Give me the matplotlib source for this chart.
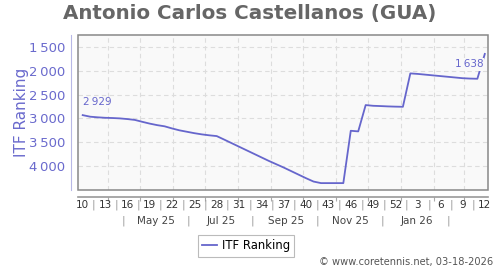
import numpy as np
import pandas as pd
import matplotlib
matplotlib.use("Agg")
import matplotlib.pyplot as plt
import matplotlib.dates as mdates
from matplotlib.patches import Rectangle
from matplotlib.ticker import FuncFormatter
from matplotlib.transforms import blended_transform_factory

# weekly ITF ranking, 2025-W10 .. 2026-W12
week_dates = pd.date_range("2025-03-08", periods=55, freq="7D")
ranking = [2929, 2962, 2975, 2985, 2990, 2998, 3012, 3030, 3070, 3108,
           3140, 3165, 3210, 3250, 3280, 3310, 3335, 3355, 3371, 3445,
           3520, 3595, 3670, 3745, 3820, 3895, 3965, 4035, 4110, 4185,
           4260, 4330, 4363, 4363, 4363, 4363, 3259, 3272, 2717, 2732,
           2738, 2745, 2750, 2753, 2049, 2060, 2075, 2090, 2105, 2120,
           2135, 2150, 2158, 2162, 1638]

week_labels = ["10", "13", "16", "19", "22", "25", "28", "31", "34", "37",
               "40", "43", "46", "49", "52", "3", "6", "9", "12"]
month_labels = ["May 25", "Jul 25", "Sep 25", "Nov 25", "Jan 26"]
month_label_dates = pd.to_datetime(["2025-05-16", "2025-07-16", "2025-09-15",
                                    "2025-11-15", "2026-01-16"])
month_sep_dates = pd.to_datetime(["2025-04-15", "2025-06-15", "2025-08-15",
                                  "2025-10-15", "2025-12-15", "2026-02-15"])

line_col = "#6666cc"
bg_col = "#f9f9f9"

def thin(v, pos=None):
    return "{:,}".format(int(v)).replace(",", "\u2009")

fig = plt.figure(figsize=(5, 2.7), dpi=100)
ax = fig.add_axes([0.156, 0.296, 0.82, 0.574])
ax.set_facecolor(bg_col)

ax.plot(week_dates, ranking, color=line_col, lw=1.3, zorder=3)

ax.set_xlim(pd.Timestamp("2025-03-03 14:00"), pd.Timestamp("2026-03-24"))
ax.set_ylim(4510, 1241)
ax.set_yticks([1500, 2000, 2500, 3000, 3500, 4000])
ax.yaxis.set_major_formatter(FuncFormatter(thin))
ax.tick_params(axis="y", length=0, pad=4, labelsize=9.5, labelcolor="#6a6acd")

ax.xaxis.set_major_locator(mdates.MonthLocator())
ax.tick_params(axis="x", length=3, color="#aaaaaa", labelbottom=False)
ax.grid(True, color="#dddddd", ls=(0, (4, 3)), lw=0.8)

for s in ["top", "right"]:
    ax.spines[s].set_visible(False)
ax.spines["left"].set_position(("outward", 5))
ax.spines["left"].set_color("#b8b8e6")
ax.spines["bottom"].set_position(("outward", 5))
ax.spines["bottom"].set_color("#999999")
ax.spines["bottom"].set_linewidth(1.2)
ax.add_patch(Rectangle((0, 0), 1, 1, transform=ax.transAxes, fill=False,
                       ec="#888888", lw=1.1, clip_on=False, zorder=4))

ax.set_ylabel("ITF Ranking", fontsize=11, color="#6a6acd", labelpad=0)

# first / last value labels
ax.annotate(thin(ranking[0]), (week_dates[0], ranking[0]), xytext=(0, 6),
            textcoords="offset points", fontsize=7.5, color=line_col,
            ha="left", va="bottom")
ax.annotate(thin(ranking[-1]), (week_dates[-1], ranking[-1]), xytext=(-1, -4),
            textcoords="offset points", fontsize=7.5, color=line_col,
            ha="right", va="top", zorder=5,
            bbox=dict(boxstyle="square,pad=0.1", fc=bg_col, ec="none"))

# week and month label rows
tr = blended_transform_factory(ax.transData, fig.transFigure)
wk_pos = week_dates[::3]
for d, lab in zip(wk_pos, week_labels):
    ax.text(d, 1 - 205 / 270, lab, transform=tr, ha="center", va="center",
            fontsize=7.5, color="#333333")
for a, b in zip(wk_pos[:-1], wk_pos[1:]):
    ax.text(a + (b - a) / 2, 1 - 205 / 270, "|", transform=tr, ha="center",
            va="center", fontsize=8, color="#999999")
for d, lab in zip(month_label_dates, month_labels):
    ax.text(d, 1 - 221 / 270, lab, transform=tr, ha="center", va="center",
            fontsize=7.5, color="#444444")
for d in month_sep_dates:
    ax.text(d, 1 - 221 / 270, "|", transform=tr, ha="center", va="center",
            fontsize=8, color="#999999")

fig.text(0.5, 1 - 13 / 270, "Antonio Carlos Castellanos (GUA)", ha="center",
         va="center", fontsize=14.3, fontweight="bold", color="#666666")

leg = fig.legend(["ITF Ranking"], loc="center", bbox_to_anchor=(246 / 500, 1 - 246 / 270),
                 fontsize=8.4, fancybox=False, edgecolor="#aaaaaa",
                 handlelength=1.3, handletextpad=0.4, borderpad=0.35)
leg.get_frame().set_linewidth(0.8)

fig.text(493 / 500, 1 - 262 / 270, "\u00a9 www.coretennis.net, 03-18-2026",
         ha="right", va="center", fontsize=7.1, color="#555555")

fig.savefig("out.png", dpi=100)
